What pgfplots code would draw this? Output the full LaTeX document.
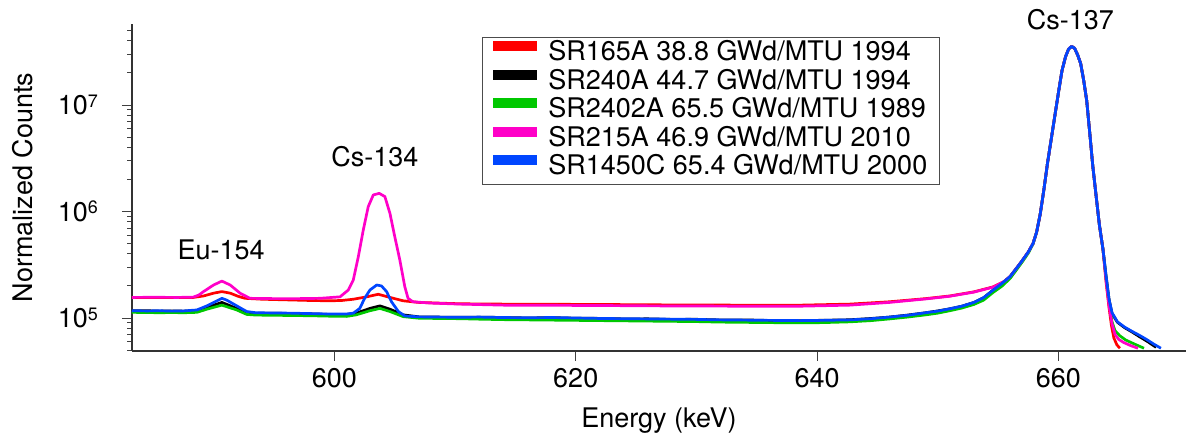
\documentclass[border=0pt]{standalone}
\usepackage{pgfplots}
\pgfplotsset{compat=1.18}
\usepackage{fontspec}
\setmainfont{TeX Gyre Heros}
\definecolor{cred}{RGB}{255,0,0}
\definecolor{cblack}{RGB}{0,0,0}
\definecolor{cgreen}{RGB}{0,200,0}
\definecolor{cpink}{RGB}{255,0,200}
\definecolor{cblue}{RGB}{0,70,255}
\newcommand\tenp[1]{10\raisebox{7.5pt}{\fontsize{18}{18}\selectfont #1}}
\newcommand\bigf{\fontsize{27}{30}\selectfont}
\begin{document}
\begin{tikzpicture}
\path[use as bounding box] (-132pt,-87pt) rectangle (1054pt,351pt);
\begin{axis}[
  scale only axis, width=1054pt, height=327pt,
  at={(0pt,0pt)}, anchor=south west,
  ymode=log, xmin=583.22, xmax=670.58, ymin=4.9e4, ymax=5.76e7,
  axis x line*=bottom, axis y line*=left,
  axis line style={line width=1.1pt, black!80},
  tick align=outside, major tick length=10pt, minor tick length=4.5pt,
  every tick/.style={line width=0.9pt, black!75},
  xtick={600,620,640,660},
  /pgf/number format/assume math mode=true,
  ytick={1e5,1e6,1e7}, yticklabels={\tenp{5},\tenp{6},\tenp{7}},
  minor ytick={5e4,6e4,7e4,8e4,9e4,2e5,3e5,4e5,5e5,6e5,7e5,8e5,9e5,2e6,3e6,4e6,5e6,6e6,7e6,8e6,9e6,2e7,3e7,4e7,5e7},
  tick label style={font=\bigf},
  xticklabel style={anchor=base, inner sep=0pt, yshift=-26.2pt},
  yticklabel style={anchor=east, inner sep=0pt, xshift=-24pt},
  xlabel={Energy (keV)}, ylabel={Normalized Counts},
  label style={font=\bigf},
  xlabel style={at={(axis description cs:0.5,0)}, anchor=base, inner sep=0pt, yshift=-77pt},
  ylabel style={at={(axis description cs:0,0.5)}, anchor=base, inner sep=0pt, yshift=99pt},
  clip=false,
  legend style={at={(axis description cs:0.332,0.960)}, anchor=north west,
    draw=black!70, line width=1pt, inner xsep=6pt, inner ysep=2pt,
    font=\bigf, row sep=0pt, column sep=0pt,
    nodes={inner xsep=6pt, inner ysep=0pt, text height=21pt, text depth=7.5pt}},
  legend cell align=left,
  legend image code/.code={\draw[line width=10pt] (0pt,7.5pt) -- (44pt,7.5pt);},
  every axis plot/.append style={line width=2.7pt, line join=round},
]
% red
\addplot[cred] coordinates {
(583.2,1.56e5)(585,1.56e5)(587,1.555e5)(588.3,1.56e5)(589.15,1.61e5)(589.98,1.71e5)(590.67,1.77e5)(591.36,1.71e5)(592.0,1.6e5)(592.6,1.53e5)(594,1.5e5)(596,1.48e5)(598,1.46e5)(599.6,1.45e5)(600.6,1.46e5)(601.56,1.5e5)(602.67,1.58e5)(603.63,1.67e5)(604.6,1.56e5)(605.7,1.45e5)(607,1.40e5)(610.4,1.36e5)(614,1.35e5)(618,1.345e5)(622,1.34e5)(626,1.33e5)(630,1.325e5)(634,1.32e5)(638.6,1.32e5)(642.7,1.35e5)(646,1.42e5)(649,1.52e5)(651,1.61e5)(653,1.76e5)(654.6,1.96e5)(655.5,2.2e5)
(656.0,2.45e5)(656.5,2.9e5)(657.0,3.45e5)(657.5,4.15e5)(657.9,5.0e5)(658.2,6.4e5)(658.5,9.5e5)(658.8,1.6e6)(659.1,2.84e6)(659.4,4.7e6)(659.7,7.8e6)(660.0,1.29e7)(660.3,2.1e7)(660.6,2.85e7)(660.85,3.35e7)(661.1,3.55e7)(661.35,3.4e7)(661.6,2.95e7)(661.85,2.45e7)(662.1,1.7e7)(662.35,1.1e7)(662.6,5.5e6)(662.85,2.7e6)(663.1,1.5e6)(663.4,7.5e5)(663.7,4.4e5)
(663.95,2.2e5)(664.2,1.25e5)(664.4,8.5e4)(664.6,6.5e4)(664.85,5.6e4)(665.1,5.2e4)};
\addlegendentry{SR165A 38.8 GWd/MTU 1994}
% black
\addplot[cblack] coordinates {
(583.2,1.17e5)(584.5,1.17e5)(585.5,1.16e5)(586.5,1.165e5)(587.5,1.16e5)(588.6,1.17e5)(589.43,1.26e5)(590.67,1.40e5)(591.9,1.23e5)(592.73,1.12e5)(593.5,1.105e5)(595,1.11e5)(596.5,1.10e5)(598,1.095e5)(599.6,1.08e5)(601.0,1.08e5)(601.8,1.11e5)(602.94,1.23e5)(603.77,1.30e5)(604.6,1.21e5)(605.7,1.07e5)(607,1.025e5)(608.5,1.02e5)(610.4,1.015e5)(612,1.018e5)(614,1.012e5)(616,1.0e5)(618,1.008e5)(620,9.95e4)(622,9.92e4)(624,9.8e4)(626,9.82e4)(628,9.7e4)(630,9.72e4)(632,9.58e4)(634,9.6e4)(636,9.48e4)(638.6,9.44e4)(640.5,9.52e4)(642.7,9.62e4)(644.5,9.9e4)(646,1.02e5)(647.5,1.065e5)(649,1.12e5)(650,1.165e5)(651,1.22e5)(652,1.29e5)(653,1.40e5)(653.8,1.55e5)(654.6,1.83e5)(655.3,2.1e5)
(656.0,2.45e5)(656.5,2.9e5)(657.0,3.45e5)(657.5,4.15e5)(657.9,5.0e5)(658.2,6.4e5)(658.5,9.5e5)(658.8,1.6e6)(659.1,2.84e6)(659.4,4.7e6)(659.7,7.8e6)(660.0,1.29e7)(660.3,2.1e7)(660.6,2.85e7)(660.85,3.35e7)(661.1,3.55e7)(661.35,3.4e7)(661.6,2.95e7)(661.85,2.45e7)(662.1,1.7e7)(662.35,1.1e7)(662.6,5.5e6)(662.85,2.7e6)(663.1,1.5e6)(663.4,7.5e5)(663.7,4.4e5)
(663.95,2.5e5)(664.2,1.5e5)(664.45,1.1e5)(664.9,9.1e4)(665.5,8.1e4)(666.1,7.4e4)(666.7,6.7e4)(667.4,6.0e4)(668.1,5.3e4)};
\addlegendentry{SR240A 44.7 GWd/MTU 1994}
% green
\addplot[cgreen] coordinates {
(583.2,1.13e5)(584.5,1.125e5)(585.5,1.12e5)(586.5,1.125e5)(587.5,1.12e5)(588.6,1.13e5)(589.43,1.21e5)(590.67,1.32e5)(591.9,1.19e5)(592.73,1.08e5)(593.5,1.065e5)(595,1.06e5)(596.5,1.055e5)(598,1.05e5)(599.6,1.04e5)(601.0,1.035e5)(601.8,1.07e5)(602.94,1.17e5)(603.77,1.23e5)(604.6,1.15e5)(605.7,1.03e5)(607,9.95e4)(608.5,9.9e4)(610.4,9.85e4)(612,9.75e4)(614,9.65e4)(616,9.6e4)(618,9.55e4)(620,9.5e4)(622,9.45e4)(624,9.4e4)(626,9.35e4)(628,9.3e4)(630,9.25e4)(632,9.15e4)(634,9.1e4)(636,9.05e4)(638.6,9.0e4)(640.5,9.05e4)(642.7,9.2e4)(644.5,9.45e4)(646,9.8e4)(647.5,1.02e5)(649,1.07e5)(650,1.11e5)(651,1.17e5)(652,1.24e5)(653,1.34e5)(653.8,1.47e5)(654.6,1.74e5)(655.3,1.98e5)(656.0,2.35e5)(656.5,2.8e5)(657.0,3.35e5)(657.5,4.05e5)(657.9,4.95e5)
(658.2,6.4e5)(658.5,9.5e5)(658.8,1.6e6)(659.1,2.84e6)(659.4,4.7e6)(659.7,7.8e6)(660.0,1.29e7)(660.3,2.1e7)(660.6,2.85e7)(660.85,3.35e7)(661.1,3.55e7)(661.35,3.4e7)(661.6,2.95e7)(661.85,2.45e7)(662.1,1.7e7)(662.35,1.1e7)(662.6,5.5e6)(662.85,2.7e6)(663.1,1.5e6)(663.4,7.5e5)(663.7,4.4e5)
(663.95,2.4e5)(664.2,1.4e5)(664.45,9.2e4)(664.7,7.6e4)(665.1,6.8e4)(665.6,6.2e4)(666.3,5.7e4)(667.1,5.2e4)};
\addlegendentry{SR2402A 65.5 GWd/MTU 1989}
% pink
\addplot[cpink] coordinates {
(583.2,1.56e5)(585,1.565e5)(587,1.56e5)(588.3,1.57e5)(588.75,1.64e5)(589.15,1.77e5)(589.98,2.04e5)(590.67,2.22e5)(591.36,2.04e5)(592.18,1.71e5)(593.0,1.53e5)(595,1.52e5)(597,1.52e5)(598.8,1.53e5)(600.46,1.58e5)(601.15,1.83e5)(601.56,2.27e5)(601.98,3.77e5)(602.39,6.7e5)(602.8,1.11e6)(603.22,1.43e6)(603.71,1.48e6)(604.18,1.38e6)(604.6,9.6e5)(605.0,5.8e5)(605.42,3.5e5)(605.83,1.97e5)(606.1,1.53e5)(606.5,1.42e5)(608,1.38e5)(610.4,1.35e5)(614,1.32e5)(618,1.315e5)(622,1.31e5)(626,1.30e5)(630,1.295e5)(634,1.29e5)(638.6,1.29e5)(642.7,1.32e5)(646,1.40e5)(649,1.51e5)(651,1.60e5)(653,1.75e5)(654.6,1.95e5)(655.5,2.2e5)
(656.0,2.45e5)(656.5,2.9e5)(657.0,3.45e5)(657.5,4.15e5)(657.9,5.0e5)(658.2,6.4e5)(658.5,9.5e5)(658.8,1.6e6)(659.1,2.84e6)(659.4,4.7e6)(659.7,7.8e6)(660.0,1.29e7)(660.3,2.1e7)(660.6,2.85e7)(660.85,3.35e7)(661.1,3.55e7)(661.35,3.4e7)(661.6,2.95e7)(661.85,2.45e7)(662.1,1.7e7)(662.35,1.1e7)(662.6,5.5e6)(662.85,2.7e6)(663.1,1.5e6)(663.4,7.5e5)(663.7,4.4e5)
(663.95,2.3e5)(664.2,1.3e5)(664.45,8.8e4)(664.7,7.0e4)(665.0,6.3e4)(665.4,5.9e4)(666.0,5.5e4)(666.6,5.2e4)};
\addlegendentry{SR215A 46.9 GWd/MTU 2010}
% blue
\addplot[cblue] coordinates {
(583.2,1.17e5)(584.5,1.165e5)(585.5,1.17e5)(586.5,1.16e5)(587.5,1.165e5)(588.6,1.19e5)(589.43,1.30e5)(590.26,1.45e5)(590.67,1.53e5)(591.08,1.47e5)(591.9,1.30e5)(592.73,1.15e5)(593.5,1.12e5)(595,1.115e5)(596.5,1.11e5)(598,1.10e5)(599.6,1.09e5)(601.0,1.09e5)(601.56,1.11e5)(602.1,1.23e5)(602.5,1.53e5)(602.94,1.83e5)(603.5,2.04e5)(603.9,2.0e5)(604.32,1.77e5)(604.73,1.42e5)(605.3,1.15e5)(605.83,1.045e5)(607,1.025e5)(608.5,1.02e5)(610.4,1.016e5)(612,1.02e5)(614,1.01e5)(616,1.005e5)(618,1.01e5)(620,1.0e5)(622,9.9e4)(624,9.85e4)(626,9.8e4)(628,9.75e4)(630,9.7e4)(632,9.6e4)(634,9.55e4)(636,9.5e4)(638.6,9.45e4)(640.5,9.5e4)(642.7,9.6e4)(644.5,9.85e4)(646,1.02e5)(647.5,1.06e5)(649,1.12e5)(650,1.16e5)(651,1.22e5)(652,1.29e5)(653,1.40e5)(653.8,1.55e5)(654.6,1.83e5)(655.3,2.1e5)
(656.0,2.45e5)(656.5,2.9e5)(657.0,3.45e5)(657.5,4.15e5)(657.9,5.0e5)(658.2,6.4e5)(658.5,9.5e5)(658.8,1.6e6)(659.1,2.84e6)(659.4,4.7e6)(659.7,7.8e6)(660.0,1.29e7)(660.3,2.1e7)(660.6,2.85e7)(660.85,3.35e7)(661.1,3.55e7)(661.35,3.4e7)(661.6,2.95e7)(661.85,2.45e7)(662.1,1.7e7)(662.35,1.1e7)(662.6,5.5e6)(662.85,2.7e6)(663.1,1.5e6)(663.4,7.5e5)(663.7,4.4e5)
(663.95,2.5e5)(664.2,1.5e5)(664.45,1.12e5)(664.9,9.2e4)(665.5,8.2e4)(666.1,7.5e4)(666.7,6.9e4)(667.3,6.3e4)(667.9,5.7e4)(668.5,5.2e4)};
\addlegendentry{SR1450C 65.4 GWd/MTU 2000}
\node[anchor=base, font=\bigf, inner sep=0pt] at (axis cs:590.6,3.56e5) {Eu-154};
\node[anchor=base, font=\bigf, inner sep=0pt] at (axis cs:603.35,2.67e6) {Cs-134};
\node[anchor=base, font=\bigf, inner sep=0pt] at (axis cs:661.0,5.14e7) {Cs-137};
\end{axis}
\end{tikzpicture}
\end{document}
